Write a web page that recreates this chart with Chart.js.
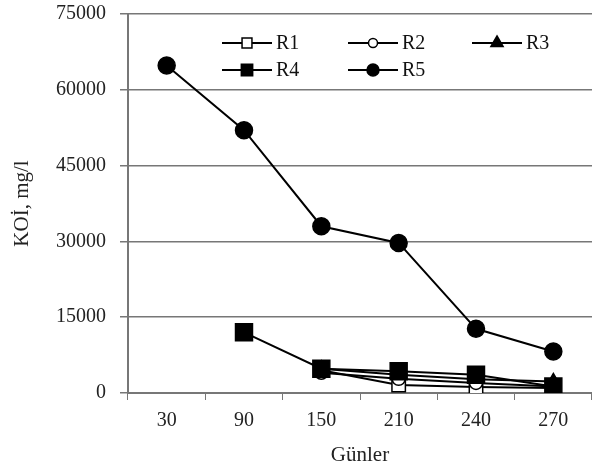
<!DOCTYPE html>
<html>
<head>
<meta charset="utf-8">
<script src="https://cdn.jsdelivr.net/npm/chart.js@4/dist/chart.umd.min.js"></script>
<style>
  html, body { margin: 0; padding: 0; background: #fff; overflow: hidden; }
  #wrap { width: 592px; height: 470px; position: relative; }
  canvas { display: block; }
</style>
</head>
<body>
<div id="wrap"><canvas id="koiChart"></canvas></div>
<script>
// gunler (x kategorileri)
const gunler = ["30", "90", "150", "210", "240", "270"];
// KOI degerleri, mg/l
const r1 = [null, null, 4500, 1600, 1200, 1000];
const r2 = [null, null, 4000, 2800, 2000, 1300];
const r3 = [null, null, 4800, 3600, 2700, 2300];
const r4 = [null, 12000, 4800, 4300, 3600, 1300];
const r5 = [64800, 52000, 33000, 29700, 12700, 8200];
const yTicks = [0, 15000, 30000, 45000, 60000, 75000];

const serif = "'Liberation Serif', 'DejaVu Serif', serif";

const seriesList = [
  { label: "R1", data: r1, style: "rect", fill: "#fff", radius: 9.5, legR: 7 },
  { label: "R2", data: r2, style: "circle", fill: "#fff", radius: 6.5, legR: 4.5 },
  { label: "R3", data: r3, style: "triangle", fill: "#000", radius: 8, legR: 7 },
  { label: "R4", data: r4, style: "rect", fill: "#000", radius: 12, legR: 8 },
  { label: "R5", data: r5, style: "circle", fill: "#000", radius: 8.5, legR: 6 },
];

// legenda grafik alanin icinde, elle cizilir
const legendPos = [
  { x: 222, y: 43 }, { x: 348, y: 43 }, { x: 472, y: 43 },
  { x: 222, y: 70 }, { x: 348, y: 70 },
];

function drawMarker(ctx, style, x, y, r, fill) {
  ctx.beginPath();
  if (style === "rect") {
    const s = Math.SQRT1_2 * r;
    ctx.rect(x - s, y - s, 2 * s, 2 * s);
  } else if (style === "circle") {
    ctx.arc(x, y, r, 0, Math.PI * 2);
  } else {
    ctx.moveTo(x, y - r);
    ctx.lineTo(x + r * 0.87, y + r * 0.5);
    ctx.lineTo(x - r * 0.87, y + r * 0.5);
    ctx.closePath();
  }
  ctx.fillStyle = fill;
  ctx.fill();
  ctx.lineWidth = 1.5;
  ctx.strokeStyle = "#000";
  ctx.stroke();
}

const legendPlugin = {
  id: "icLegend",
  afterDraw(chart) {
    const ctx = chart.ctx;
    ctx.save();
    seriesList.forEach((s, i) => {
      const p = legendPos[i];
      ctx.beginPath();
      ctx.moveTo(p.x, p.y);
      ctx.lineTo(p.x + 50, p.y);
      ctx.lineWidth = 2;
      ctx.strokeStyle = "#000";
      ctx.stroke();
      drawMarker(ctx, s.style, p.x + 25, p.y, s.legR, s.fill);
      ctx.fillStyle = "#111";
      ctx.font = "20px " + serif;
      ctx.textBaseline = "middle";
      ctx.textAlign = "left";
      ctx.fillText(s.label, p.x + 54, p.y + 1);
    });
    ctx.restore();
  },
};

new Chart(document.getElementById("koiChart"), {
  type: "line",
  data: {
    labels: gunler,
    datasets: seriesList.map((s, i) => ({
      label: s.label,
      data: s.data,
      order: seriesList.length - i,
      borderColor: "#000",
      borderWidth: 2,
      pointStyle: s.style,
      pointRadius: s.radius,
      pointBackgroundColor: s.fill,
      pointBorderColor: "#000",
      pointBorderWidth: 1.5,
      tension: 0,
      spanGaps: false,
    })),
  },
  options: {
    responsive: true,
    maintainAspectRatio: false,
    animation: false,
    layout: { autoPadding: false, padding: { top: 14, right: 0, left: 0, bottom: 0 } },
    plugins: {
      legend: { display: false },
      tooltip: { enabled: false },
    },
    scales: {
      x: {
        offset: true,
        grid: {
          offset: true,
          drawOnChartArea: false,
          drawTicks: true,
          tickLength: 7,
          tickColor: "#777",
        },
        border: { color: "#777", width: 2 },
        ticks: {
          color: "#222",
          font: { family: serif, size: 20 },
          padding: 9,
          maxRotation: 0,
        },
        title: {
          display: true,
          text: "Günler",
          color: "#222",
          font: { family: serif, size: 21 },
          padding: { top: 2, bottom: 2 },
        },
        afterFit(scale) {
          scale.height = 77;
          scale.paddingRight = 0;
          scale.paddingLeft = 0;
        },
      },
      y: {
        min: 0,
        max: 75000,
        afterBuildTicks(scale) {
          scale.ticks = yTicks.map((v) => ({ value: v }));
        },
        grid: {
          color: "#777",
          lineWidth: 1.5,
          tickLength: 8,
          tickColor: "#777",
        },
        border: { color: "#777", width: 2 },
        ticks: {
          color: "#222",
          font: { family: serif, size: 20 },
          padding: 14,
          callback: (v) => String(v),
        },
        title: {
          display: true,
          text: "KOİ, mg/l",
          color: "#222",
          font: { family: serif, size: 21 },
          padding: { top: 10, bottom: 0 },
        },
        afterFit(scale) {
          scale.width = 128;
          scale.paddingTop = 0;
          scale.paddingBottom = 0;
        },
      },
    },
  },
  plugins: [legendPlugin],
});
</script>
</body>
</html>
